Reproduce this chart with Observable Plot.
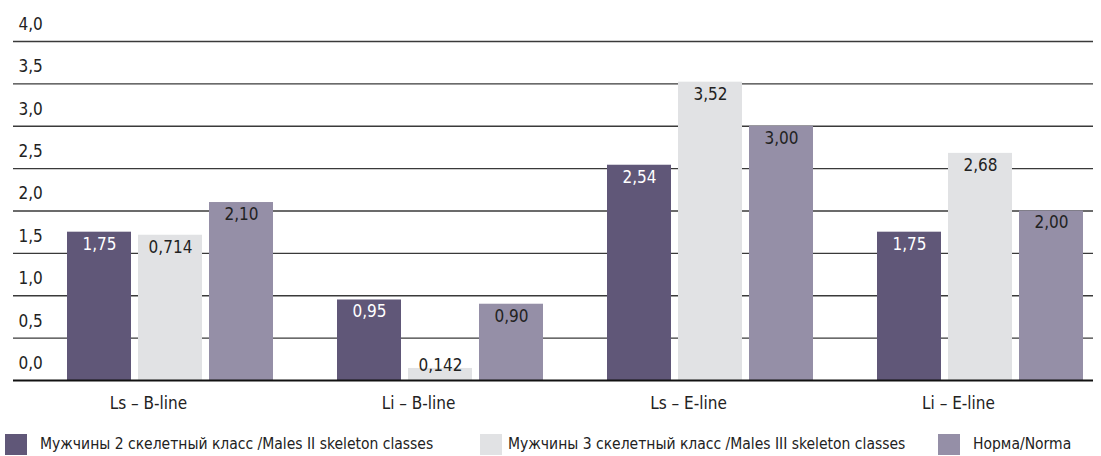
<!DOCTYPE html>
<html><head><meta charset="utf-8">
<script src="https://cdn.jsdelivr.net/npm/d3@7"></script>
<script src="https://cdn.jsdelivr.net/npm/@observablehq/plot@0.6"></script>
<style>
body{margin:0;background:#fff;font-family:"Liberation Sans Narrow","Arial Narrow","DejaVu Sans Condensed",sans-serif;width:1101px;overflow:hidden;}
#legend{position:relative;height:31px;width:1101px;overflow:hidden;font-size:15.5px;color:#222;white-space:nowrap;}
#legend .sw{position:absolute;top:9px;width:22px;height:21px;}
#legend .tx{position:absolute;top:10px;line-height:19px;}
</style></head><body><div id="chart"></div><div id="legend"></div>
<script>
const categories = ["Ls – B-line", "Li – B-line", "Ls – E-line", "Li – E-line"];
const seriesNames = [
  "Мужчины 2 скелетный класс /Males II skeleton classes",
  "Мужчины 3 скелетный класс /Males III skeleton classes",
  "Норма/Norma"
];
const colors = ["#605778", "#e1e2e4", "#958fa7"];
const males2Values = [1.75, 0.95, 2.54, 1.75];
const males2Labels = ["1,75", "0,95", "2,54", "1,75"];
const males3Values = [1.714, 0.142, 3.52, 2.68];
const males3Labels = ["0,714", "0,142", "3,52", "2,68"];
const normaValues = [2.10, 0.90, 3.00, 2.00];
const normaLabels = ["2,10", "0,90", "3,00", "2,00"];
const yTicks = [0, 0.5, 1, 1.5, 2, 2.5, 3, 3.5, 4];

const seriesValues = [males2Values, males3Values, normaValues];
const seriesLabels = [males2Labels, males3Labels, normaLabels];
const rows = [];
categories.forEach((c, i) => {
  seriesNames.forEach((s, j) => {
    rows.push({category: c, series: s, value: seriesValues[j][i], label: seriesLabels[j][i]});
  });
});
const fmt = d => d.toFixed(1).replace(".", ",");

const chart = Plot.plot({
  width: 1101,
  height: 425,
  marginTop: 41,
  marginBottom: 45,
  marginLeft: 11,
  marginRight: 7,
  style: {fontFamily: '"Liberation Sans Narrow","Arial Narrow","DejaVu Sans Condensed",sans-serif', fontSize: "17px", color: "#222", background: "#fff"},
  fx: {domain: categories, padding: 0, label: null},
  x: {domain: seriesNames, paddingInner: 0.0972, paddingOuter: 0.4286, align: 0.852, axis: null},
  y: {domain: [0, 4], label: null},
  color: {domain: seriesNames, range: colors},
  marks: [
    Plot.ruleY(yTicks.filter(d => d > 0), {stroke: "#3a3a3a", strokeWidth: 1.4}),
    Plot.barY(rows, {fx: "category", x: "series", y: "value", fill: "series"}),
    Plot.text(rows, {filter: d => d.series === seriesNames[0], fx: "category", x: "series", y: d => Math.max(d.value, 0.32), dy: 12, text: "label", fill: "#ffffff"}),
    Plot.text(rows, {filter: d => d.series !== seriesNames[0], fx: "category", x: "series", y: d => Math.max(d.value, 0.32), dy: 12, text: "label", fill: "#222"}),
    Plot.ruleY([0], {stroke: "#111", strokeWidth: 2.2}),
    Plot.axisY(yTicks, {anchor: "left", tickSize: 0, tickPadding: -5, textAnchor: "start", dy: -17, tickFormat: fmt, label: null, fill: "#222"}),
    Plot.axisFx({anchor: "bottom", tickSize: 0, tickPadding: 16, label: null})
  ]
});
document.getElementById("chart").appendChild(chart);

const legend = document.getElementById("legend");
const swatchLeft = [5, 480, 938];
const textLeft = [40, 508, 973];
seriesNames.forEach((s, j) => {
  const sw = document.createElement("div");
  sw.className = "sw";
  sw.style.left = swatchLeft[j] + "px";
  sw.style.background = colors[j];
  const t = document.createElement("div");
  t.className = "tx";
  t.style.left = textLeft[j] + "px";
  t.textContent = s;
  legend.appendChild(sw);
  legend.appendChild(t);
});
</script></body></html>
